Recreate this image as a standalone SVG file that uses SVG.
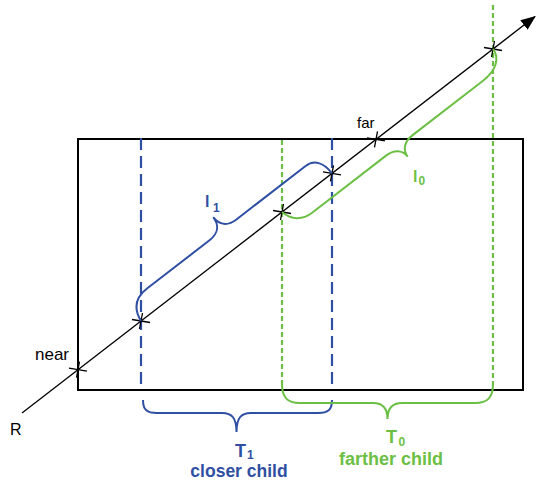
<svg xmlns="http://www.w3.org/2000/svg" xmlns:xlink="http://www.w3.org/1999/xlink" width="537" height="481" viewBox="0 0 537 481">
<style>
.t{font-family:"Liberation Sans",Arial,sans-serif;fill:#000}
.b{font-weight:bold}
.blue{fill:#2f4fa3}
.green{fill:#6cbf45}
.bs{fill:none;stroke:#2f4fa3;stroke-width:2}
.gs{fill:none;stroke:#6cbf45;stroke-width:2}
.bd{stroke:#2f4fa3;stroke-width:2.2;stroke-dasharray:12 6;fill:none}
.gd{stroke:#6cbf45;stroke-width:2.2;stroke-dasharray:5 3;fill:none}
.cr{stroke:#000;stroke-width:1.3;fill:none}
</style>
<defs>
<marker id="arr" markerUnits="userSpaceOnUse" markerWidth="16" markerHeight="12" refX="14" refY="6" orient="auto">
<path d="M0,0 L15,6 L0,12 z" fill="#000"/>
</marker>
<path id="cross" class="cr" d="M-9,-1.5 L9,1.5 M1.5,-8 L-1.5,8"/>
</defs>
<rect width="537" height="481" fill="#fff"/>
<g id="box">
<rect x="78" y="139" width="445" height="251" fill="none" stroke="#000" stroke-width="2"/>
</g>
<g id="bounds">
<line class="bd" x1="141" y1="138" x2="141" y2="390"/>
<line class="bd" x1="332" y1="138" x2="332" y2="390"/>
<line class="gd" x1="282" y1="140" x2="282" y2="388"/>
<line class="gd" x1="493" y1="5" x2="493" y2="388"/>
</g>
<g id="connectors">
<line x1="22" y1="413" x2="535" y2="16.5" stroke="#000" stroke-width="1.3" marker-end="url(#arr)"/>
</g>
<g id="crosses">
<use xlink:href="#cross" href="#cross" x="78" y="369.7"/>
<use xlink:href="#cross" href="#cross" x="141" y="321"/>
<use xlink:href="#cross" href="#cross" x="282" y="212"/>
<use xlink:href="#cross" href="#cross" x="332" y="173.4"/>
<use xlink:href="#cross" href="#cross" x="376" y="139.4"/>
<use xlink:href="#cross" href="#cross" x="493" y="49"/>
</g>
<g id="brace-l1" transform="translate(22,413) rotate(-37.7)">
<path class="bs" d="M150.4,0 C152,-14 160,-22 175,-22 L254,-22 C265,-22 271,-28 271,-38 C271,-28 277,-22 288,-22 L375,-22 C386,-22 392,-14 391.8,0"/>
</g>
<g id="brace-l0" transform="translate(22,413) rotate(-37.7)">
<path class="gs" d="M328.6,0 C331,12 340,19 352,19 L445,19 C455,19 462,24 462,33 C462,24 469,19 479,19 L568,19 C584,19 595,12 595.3,0"/>
</g>
<g id="brace-t1">
<path class="bs" d="M143,400 C143,410 147,413 157,413 L222,413 C232,413 236.5,418 236.5,432 C236.5,418 241,413 251,413 L318,413 C328,413 332,410 332,400"/>
</g>
<g id="brace-t0">
<path class="gs" d="M282,384 C282,397 287,403 300,403 L373,403 C383,403 387.5,408 387.5,419 C387.5,408 392,403 402,403 L475,403 C488,403 493,397 493,384"/>
</g>
<g id="labels">
<text class="t" x="35" y="360" font-size="17">near</text>
<text class="t" x="357" y="128" font-size="15">far</text>
<text class="t" x="10" y="435" font-size="16">R</text>
<text class="t b blue" x="205" y="207" font-size="16">l</text>
<text class="t b blue" x="213" y="212" font-size="12">1</text>
<text class="t b green" x="413" y="182" font-size="16">l</text>
<text class="t b green" x="418.5" y="185" font-size="12">0</text>
<text class="t b blue" x="235" y="457" font-size="18">T</text>
<text class="t b blue" x="247" y="459" font-size="12">1</text>
<text class="t b blue" x="239" y="477" font-size="17.5" text-anchor="middle">closer child</text>
<text class="t b green" x="386" y="443" font-size="18">T</text>
<text class="t b green" x="398.5" y="446" font-size="12">0</text>
<text class="t b green" x="391" y="465" font-size="18" text-anchor="middle">farther child</text>
</g>
</svg>
